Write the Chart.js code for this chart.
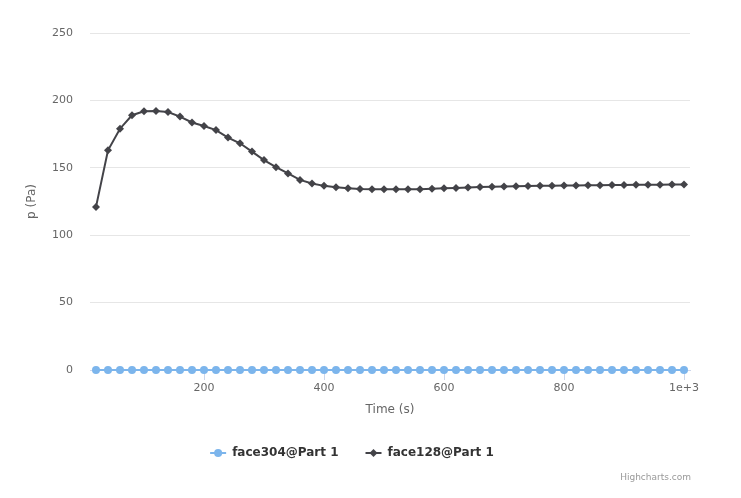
<!DOCTYPE html>
<html>
<head>
<meta charset="utf-8">
<script src="https://cdn.jsdelivr.net/npm/chart.js@4.4.0/dist/chart.umd.min.js"></script>
<style>
  html, body { margin: 0; padding: 0; background: #ffffff; }
  #wrap { width: 741px; height: 498px; position: relative; }
</style>
</head>
<body>
<div id="wrap"><canvas id="pChart"></canvas></div>
<script>
// --- data ---
const times = [20, 40, 60, 80, 100, 120, 140, 160, 180, 200,
               220, 240, 260, 280, 300, 320, 340, 360, 380, 400,
               420, 440, 460, 480, 500, 520, 540, 560, 580, 600,
               620, 640, 660, 680, 700, 720, 740, 760, 780, 800,
               820, 840, 860, 880, 900, 920, 940, 960, 980, 1000];
const face304 = [0, 0, 0, 0, 0, 0, 0, 0, 0, 0,
                 0, 0, 0, 0, 0, 0, 0, 0, 0, 0,
                 0, 0, 0, 0, 0, 0, 0, 0, 0, 0,
                 0, 0, 0, 0, 0, 0, 0, 0, 0, 0,
                 0, 0, 0, 0, 0, 0, 0, 0, 0, 0];
const face128 = [121, 163, 179, 189, 192, 192.2, 191.4, 188, 183.6, 181,
                 178, 172.4, 168.2, 162, 155.7, 150.5, 145.8, 141, 138.4, 136.6,
                 135.6, 134.9, 134.3, 134.1, 134, 134, 134, 134.1, 134.4, 134.8,
                 135.1, 135.4, 135.7, 135.9, 136.1, 136.3, 136.5, 136.6, 136.7, 136.8,
                 136.9, 137, 137.1, 137.2, 137.3, 137.4, 137.5, 137.5, 137.6, 137.7];
const seriesNames = ['face304@Part 1', 'face128@Part 1'];
const seriesColors = ['#7cb5ec', '#434348'];
const xTicks = [200, 400, 600, 800, 1000];

const FONT = '"DejaVu Sans", "Lucida Grande", Arial, sans-serif';

function toPoints(vals) {
    return times.map((t, i) => ({ x: t, y: vals[i] }));
}

// legend + credits drawn like the Highcharts original (line with marker)
const legendPlugin = {
    id: 'hcLegend',
    afterDraw(chart) {
        const ctx = chart.ctx;
        ctx.save();
        ctx.font = 'bold 12px ' + FONT;
        const symW = 16, symPad = 6, gap = 27;
        const widths = seriesNames.map(n => symW + symPad + ctx.measureText(n).width);
        const total = widths.reduce((a, b) => a + b, 0) + gap * (widths.length - 1);
        let x = 352 - total / 2;
        const y = 453;
        seriesNames.forEach((name, i) => {
            ctx.strokeStyle = seriesColors[i];
            ctx.lineWidth = 2;
            ctx.beginPath();
            ctx.moveTo(x, y);
            ctx.lineTo(x + symW, y);
            ctx.stroke();
            ctx.fillStyle = seriesColors[i];
            ctx.beginPath();
            if (i === 0) {
                ctx.arc(x + symW / 2, y, 4, 0, Math.PI * 2);
            } else {
                const cx = x + symW / 2;
                ctx.moveTo(cx, y - 4);
                ctx.lineTo(cx + 4, y);
                ctx.lineTo(cx, y + 4);
                ctx.lineTo(cx - 4, y);
                ctx.closePath();
            }
            ctx.fill();
            ctx.fillStyle = '#333333';
            ctx.textBaseline = 'middle';
            ctx.textAlign = 'left';
            ctx.fillText(name, x + symW + symPad, y);
            x += widths[i] + gap;
        });
        // credits
        ctx.font = '9px ' + FONT;
        ctx.fillStyle = '#999999';
        ctx.textAlign = 'right';
        ctx.fillText('Highcharts.com', 691, 478);
        ctx.restore();
    }
};

const ctxP = document.getElementById('pChart').getContext('2d');
const pChart = new Chart(ctxP, {
    type: 'line',
    data: {
        datasets: [
            { label: seriesNames[0], data: toPoints(face304), borderColor: seriesColors[0], backgroundColor: seriesColors[0],
              borderWidth: 2, pointStyle: 'circle', pointRadius: 4, pointBorderWidth: 0, tension: 0, clip: false },
            { label: seriesNames[1], data: toPoints(face128), borderColor: seriesColors[1], backgroundColor: seriesColors[1],
              borderWidth: 2, pointStyle: 'rectRot', pointRadius: 4, pointBorderWidth: 0, tension: 0, clip: false }
        ]
    },
    options: {
        responsive: true,
        maintainAspectRatio: false,
        animation: false,
        layout: { padding: { left: 20, right: 51, top: 33, bottom: 70 } },
        plugins: { legend: { display: false }, tooltip: { enabled: false } },
        scales: {
            x: {
                type: 'linear',
                min: 10,
                max: 1010,
                afterBuildTicks: (scale) => { scale.ticks = xTicks.map(v => ({ value: v })); },
                afterFit: (scale) => { scale.height = 58; },
                grid: { drawOnChartArea: false, drawTicks: true, tickLength: 10, color: '#ccd6eb' },
                border: { display: true, color: '#ccd6eb' },
                ticks: {
                    padding: 2,
                    color: '#666666',
                    font: { family: FONT, size: 11 },
                    maxRotation: 0,
                    callback: (v) => v === 1000 ? '1e+3' : String(v)
                },
                title: { display: true, text: 'Time (s)', color: '#666666',
                         font: { family: FONT, size: 12 }, padding: { top: 0, bottom: 11 } }
            },
            y: {
                min: 0,
                max: 250,
                afterFit: (scale) => { scale.width = 70; },
                grid: { color: '#e6e6e6', drawTicks: false },
                border: { display: false },
                ticks: { stepSize: 50, padding: 17, color: '#666666', font: { family: FONT, size: 11 } },
                title: { display: true, text: 'p (Pa)', color: '#666666',
                         font: { family: FONT, size: 12 }, padding: { top: 5, bottom: 0 } }
            }
        }
    },
    plugins: [legendPlugin]
});
</script>
</body>
</html>
